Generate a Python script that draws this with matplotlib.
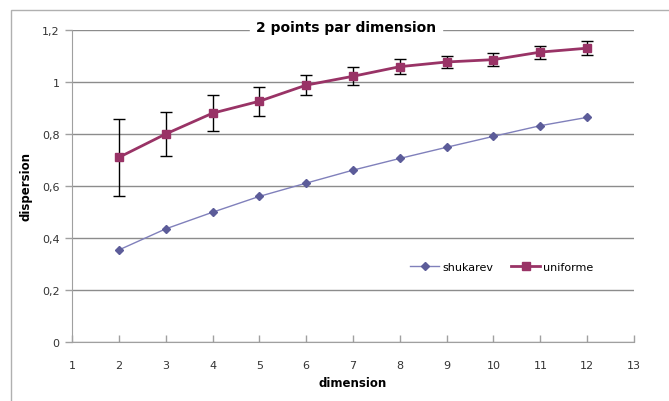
import matplotlib.pyplot as plt
from matplotlib.patches import Rectangle
from matplotlib.ticker import FuncFormatter

# données
dims = [2, 3, 4, 5, 6, 7, 8, 9, 10, 11, 12]
shukarev = [0.354, 0.435, 0.499, 0.560, 0.611, 0.661, 0.706, 0.749, 0.791, 0.832, 0.864]
uniforme = [0.710, 0.800, 0.880, 0.926, 0.988, 1.022, 1.059, 1.077, 1.086, 1.115, 1.130]
uniforme_err = [0.147, 0.085, 0.070, 0.056, 0.039, 0.034, 0.030, 0.022, 0.026, 0.025, 0.026]

W, H = 669, 402
fig = plt.figure(figsize=(W / 100, H / 100), dpi=100)
ax = fig.add_axes([72 / W, 1 - 343 / H, (634 - 72) / W, (343 - 31) / H])

# cadre extérieur du graphique
fig.patches.append(Rectangle((11 / W, -0.1), 1.2, 1 - 11 / H + 0.1, transform=fig.transFigure,
                             fill=False, edgecolor='#b0b0b0', linewidth=1.0))

ax.errorbar(dims, uniforme, yerr=uniforme_err, fmt='none', ecolor='black',
            elinewidth=1.0, capsize=4, capthick=1.0, zorder=2)
ax.plot(dims, shukarev, color='#8080bb', linewidth=1.0, marker='D', markersize=4.5,
        markerfacecolor='#5c5c99', markeredgecolor='#5c5c99', label='shukarev', zorder=3)
ax.plot(dims, uniforme, color='#993366', linewidth=2.0, marker='s', markersize=5.5,
        markerfacecolor='#993366', markeredgecolor='#993366', label='uniforme', zorder=3)

ax.set_xlim(1, 13)
ax.set_ylim(0, 1.2)
ax.set_xticks(range(1, 14))
ax.set_yticks([0, 0.2, 0.4, 0.6, 0.8, 1.0, 1.2])
ax.yaxis.set_major_formatter(FuncFormatter(lambda v, p: ('%g' % round(v, 1)).replace('.', ',')))
ax.grid(axis='y', color='#8c8c8c', linewidth=1.0)
ax.set_axisbelow(True)

for s in ['top', 'right']:
    ax.spines[s].set_visible(False)
for s in ['left', 'bottom']:
    ax.spines[s].set_color('#a0a0a0')
ax.tick_params(axis='both', colors='#a0a0a0', labelcolor='#333333', labelsize=8, length=5, width=1)
ax.tick_params(axis='x', direction='in', pad=13)
ax.tick_params(axis='y', direction='out', pad=4)

# titre posé sur la ligne de grille du haut, fond blanc
fig.text(346 / W, 1 - 28 / H, '2 points par dimension', fontsize=10, fontweight='bold',
         ha='center', va='center', backgroundcolor='white', zorder=5)
ax.set_xlabel('dimension', fontsize=8.5, fontweight='bold', labelpad=4)
ax.set_ylabel('dispersion', fontsize=8.5, fontweight='bold', labelpad=7)

ax.legend(loc='center', bbox_to_anchor=(0.765, 0.24), ncol=2, frameon=False, fontsize=8,
          handlelength=2.6, columnspacing=1.6, handletextpad=0.3)

fig.savefig('out.png', dpi=100)
